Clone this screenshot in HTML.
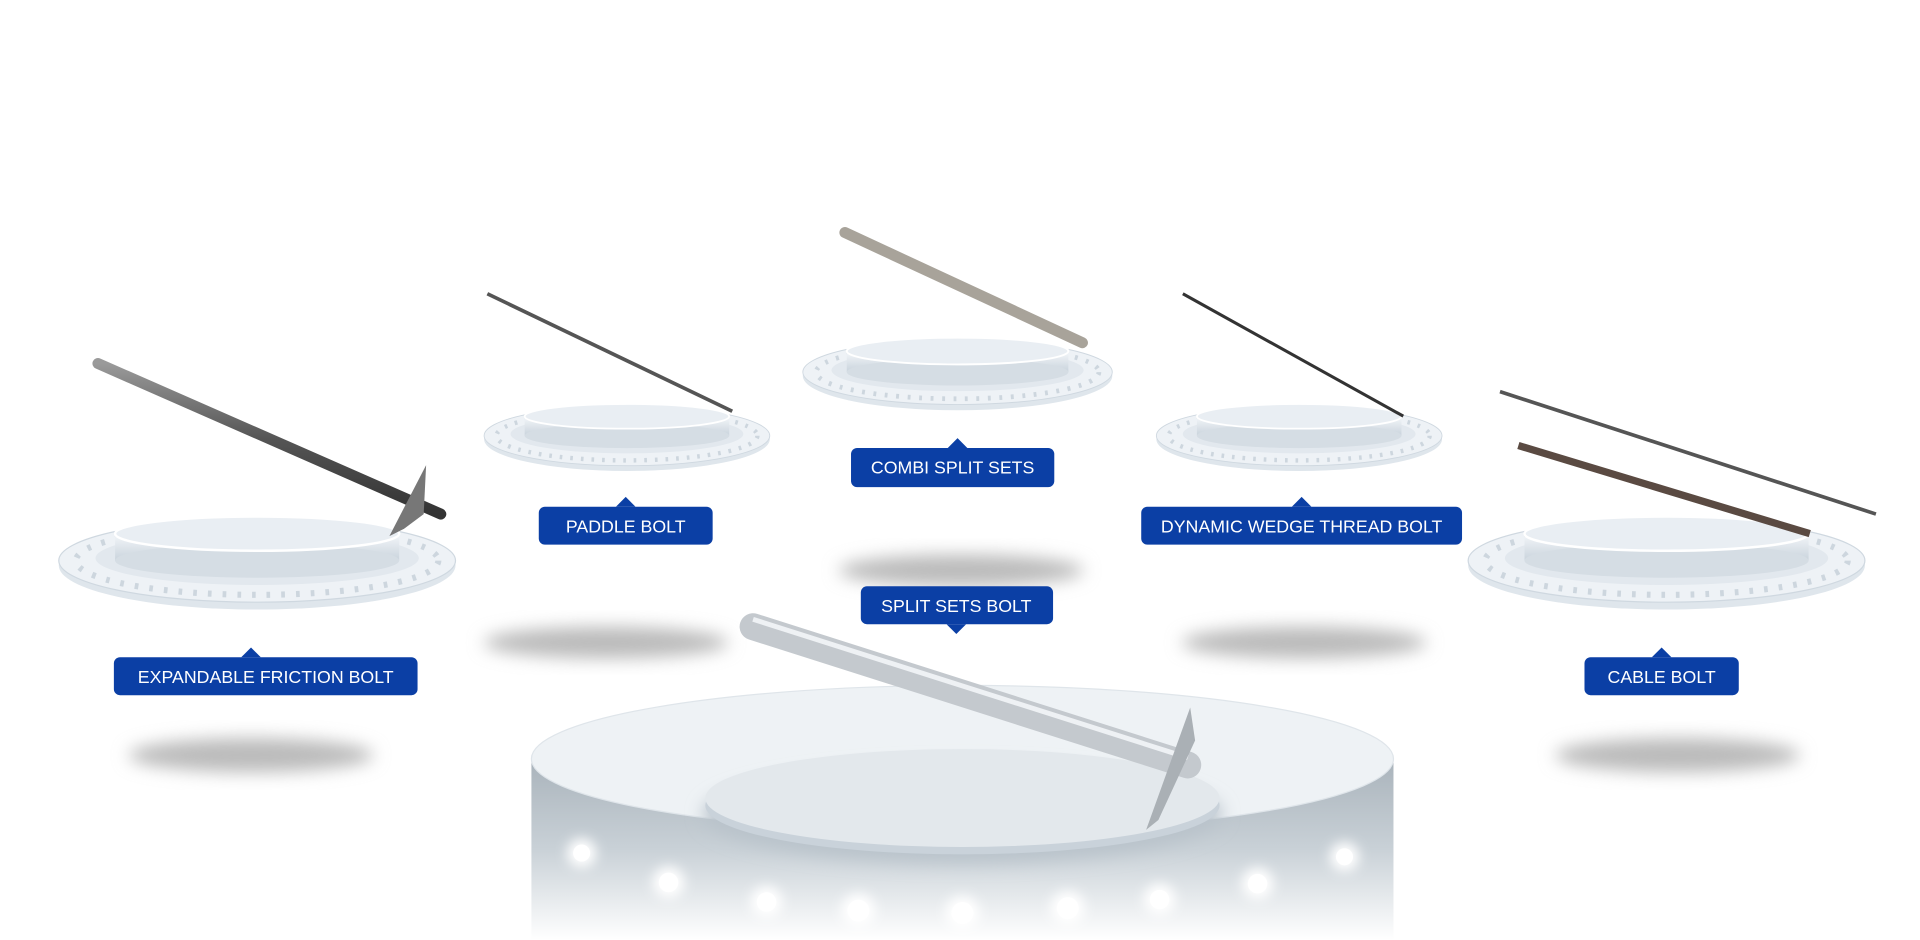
<!DOCTYPE html>
<html><head><meta charset="utf-8"><style>
html,body{margin:0;padding:0;background:#fff;}
svg{display:block;}
text{font-family:"Liberation Sans",sans-serif;font-size:14.5px;fill:#fff;}
</style></head><body>
<svg width="1920" height="940" viewBox="0 0 1568 768" preserveAspectRatio="none" xmlns="http://www.w3.org/2000/svg">
<defs>
<filter id="bl" x="-50%" y="-50%" width="200%" height="200%"><feGaussianBlur stdDeviation="7"/></filter>
<filter id="gl" x="-100%" y="-100%" width="300%" height="300%"><feGaussianBlur stdDeviation="5"/></filter>
<linearGradient id="cyl" x1="0" y1="0" x2="0" y2="1"><stop offset="0" stop-color="#f4f7fa"/><stop offset="1" stop-color="#c9d3dc"/></linearGradient>
<linearGradient id="side" x1="0" y1="0" x2="0" y2="1"><stop offset="0" stop-color="#a9b3bb"/><stop offset="0.5" stop-color="#c9d1d7"/><stop offset="1" stop-color="#ffffff"/></linearGradient>
<linearGradient id="rod" x1="0" y1="0" x2="0" y2="1"><stop offset="0" stop-color="#9a9a9a"/><stop offset="0.5" stop-color="#555"/><stop offset="1" stop-color="#333"/></linearGradient>
<g id="ring">
<ellipse cx="0" cy="4" rx="162" ry="36" fill="#dfe6ec"/>
<ellipse cx="0" cy="0" rx="162" ry="34" fill="#eef2f6" stroke="#cfd8e0"/>
<ellipse cx="0" cy="0" rx="148" ry="28" fill="none" stroke="#cdd6de" stroke-width="5" stroke-dasharray="3 9"/>
<ellipse cx="0" cy="-2" rx="132" ry="22" fill="#e2e8ee"/>
<rect x="-116" y="-22" width="232" height="22" fill="url(#cyl)"/>
<ellipse cx="0" cy="0" rx="116" ry="14" fill="#d5dde4"/>
<ellipse cx="0" cy="-22" rx="116" ry="14" fill="#e9eef3" stroke="#fff" stroke-width="2"/>
</g>
</defs>

<ellipse cx="205" cy="617" rx="100" ry="14" fill="#bbb" filter="url(#bl)"/>
<ellipse cx="495" cy="525" rx="100" ry="13" fill="#bbb" filter="url(#bl)"/>
<ellipse cx="785" cy="466" rx="100" ry="13" fill="#bbb" filter="url(#bl)"/>
<ellipse cx="1065" cy="525" rx="100" ry="13" fill="#bbb" filter="url(#bl)"/>
<ellipse cx="1370" cy="617" rx="100" ry="14" fill="#bbb" filter="url(#bl)"/>

<use href="#ring" transform="translate(210,458)"/>
<use href="#ring" transform="translate(512,356) scale(0.72)"/>
<use href="#ring" transform="translate(782,304) scale(0.78)"/>
<use href="#ring" transform="translate(1061,356) scale(0.72)"/>
<use href="#ring" transform="translate(1361,458)"/>

<!-- big platform -->
<rect x="434" y="620" width="704" height="148" fill="url(#side)"/>
<ellipse cx="786" cy="620" rx="352" ry="60" fill="#eef2f5" stroke="#dfe5ea"/>
<ellipse cx="786" cy="665" rx="212" ry="40" fill="#b9c3cb" filter="url(#bl)"/>
<ellipse cx="786" cy="658" rx="210" ry="40" fill="#c9d2da"/>
<ellipse cx="786" cy="652" rx="210" ry="40" fill="#e3e8ec"/>
<g fill="#fff" filter="url(#gl)">
<circle cx="475" cy="697" r="12"/><circle cx="546" cy="721" r="13"/><circle cx="626" cy="737" r="13"/><circle cx="701" cy="744" r="14"/><circle cx="786" cy="746" r="14"/><circle cx="872" cy="742" r="14"/><circle cx="947" cy="735" r="13"/><circle cx="1027" cy="722" r="13"/><circle cx="1098" cy="700" r="12"/>
</g>
<g fill="#fff">
<circle cx="475" cy="697" r="7"/><circle cx="546" cy="721" r="8"/><circle cx="626" cy="737" r="8"/><circle cx="701" cy="744" r="9"/><circle cx="786" cy="746" r="9"/><circle cx="872" cy="742" r="9"/><circle cx="947" cy="735" r="8"/><circle cx="1027" cy="722" r="8"/><circle cx="1098" cy="700" r="7"/>
</g>

<line x1="80" y1="297" x2="360" y2="420" stroke="url(#rod)" stroke-width="9" stroke-linecap="round"/>
<polygon points="348,380 318,438 330,432 346,420" fill="#777"/>
<line x1="398" y1="240" x2="598" y2="336" stroke="#555" stroke-width="3"/>
<line x1="690" y1="190" x2="884" y2="280" stroke="#a8a39a" stroke-width="9" stroke-linecap="round"/>
<line x1="966" y1="240" x2="1146" y2="340" stroke="#333" stroke-width="2.5"/>
<line x1="1225" y1="320" x2="1532" y2="420" stroke="#555" stroke-width="3"/>
<line x1="1240" y1="364" x2="1478" y2="436" stroke="#5a4a42" stroke-width="6"/>
<line x1="615" y1="512" x2="970" y2="625" stroke="#c4c9ce" stroke-width="22" stroke-linecap="round"/>
<line x1="615" y1="506" x2="970" y2="619" stroke="#eef1f4" stroke-width="4"/>
<polygon points="972,578 936,678 946,670 976,605" fill="#aab0b5"/>

<g fill="#0b3fa5">
<rect x="93" y="537" width="248" height="31" rx="5"/><polygon points="197,537 205,529 213,537"/>
<rect x="440" y="414" width="142" height="31" rx="5"/><polygon points="503,414 511,406 519,414"/>
<rect x="695" y="366" width="166" height="32" rx="5"/><polygon points="774,366 782,358 790,366"/>
<rect x="932" y="414" width="262" height="31" rx="5"/><polygon points="1055,414 1063,406 1071,414"/>
<rect x="1294" y="537" width="126" height="31" rx="5"/><polygon points="1349,537 1357,529 1365,537"/>
<rect x="703" y="479" width="157" height="31" rx="5"/><polygon points="773,510 781,518 789,510"/>
</g>
<text x="217" y="558" text-anchor="middle">EXPANDABLE FRICTION BOLT</text>
<text x="511" y="435" text-anchor="middle">PADDLE BOLT</text>
<text x="778" y="387" text-anchor="middle">COMBI SPLIT SETS</text>
<text x="1063" y="435" text-anchor="middle">DYNAMIC WEDGE THREAD BOLT</text>
<text x="1357" y="558" text-anchor="middle">CABLE BOLT</text>
<text x="781" y="500" text-anchor="middle">SPLIT SETS BOLT</text>
</svg>
</body></html>
